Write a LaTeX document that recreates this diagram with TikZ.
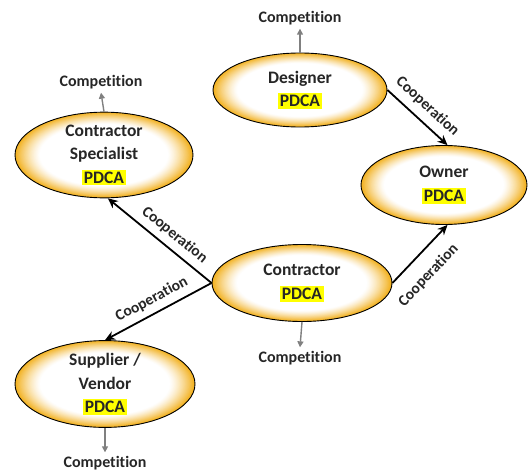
\documentclass[tikz,border=0pt]{standalone}
\usepackage{fontspec}
\setmainfont{Carlito}[Ligatures=NoCommon]
\usetikzlibrary{shapes.geometric,arrows.meta}

\definecolor{ringgold}{RGB}{242,176,28}
\definecolor{pdcayellow}{RGB}{255,255,0}
\newcommand{\pdca}{{\setlength{\fboxsep}{2pt}\colorbox{pdcayellow}{PDCA}}}

\begin{document}
\begin{tikzpicture}[x=1pt,y=-1pt,line width=0.9pt]
    \tikzstyle{glow}=[path picture={
        \pgfpointdiff{\pgfpointanchor{path picture bounding box}{center}}{\pgfpointanchor{path picture bounding box}{north east}}
        \pgfgetlastxy{\rx}{\ry}
        \foreach \k in {0,...,30} {
            \pgfmathsetmacro{\s}{1-0.0093*\k}
            \pgfmathsetmacro{\p}{100*(1-\k/30)^1.3}
            \fill[ringgold!\p!white] (path picture bounding box.center) ellipse [x radius=\s*\rx, y radius=\s*\ry];
        }}]
    \tikzstyle{party}=[ellipse,draw=black,glow,inner sep=0pt,align=center,text=black!85,font=\fontsize{17.5}{23.5}\selectfont\bfseries]
    \tikzstyle{compete}=[text=black!85,font=\fontsize{16}{17}\selectfont\bfseries]
    \tikzstyle{coop}=[-{Stealth[length=10pt,width=9pt]},line width=1.8pt,black]
    \tikzstyle{rival}=[-{Triangle[length=6pt,width=6pt]},line width=1.4pt,black!50]
    \tikzstyle{coop label}=[sloped,text=black!85,font=\fontsize{15.5}{17}\selectfont\bfseries]

    \useasboundingbox (0,0) rectangle (530,471);

    % Draw the parties
    \node[party,minimum width=174pt,minimum height=74pt] (P-des) at (300,90) {Designer\\\pdca};
    \node[party,minimum width=178pt,minimum height=75pt] (P-spe) at (104,155) {Contractor\\Specialist\\\pdca};
    \node[party,minimum width=166pt,minimum height=79pt] (P-own) at (444,185) {Owner\\\pdca};
    \node[party,minimum width=180pt,minimum height=77pt] (P-con) at (302,283) {Contractor\\\pdca};
    \node[party,minimum width=180pt,minimum height=72pt] (P-sup) at (105,384) {Supplier /\\Vendor\\\pdca};

    % Draw the competition labels
    \node[compete] (C-des) at (300,18) {Competition};
    \node[compete] (C-spe) at (101,82) {Competition};
    \node[compete] (C-con) at (300,358) {Competition};
    \node[compete] (C-sup) at (105,463) {Competition};

    \draw[rival] (P-des.north) -- (C-des.south);
    \draw[rival] (P-spe.north) -- (C-spe.south);
    \draw[rival] (P-con.south) -- (C-con.north);
    \draw[rival] (P-sup.south) -- (C-sup.north);

    % Connect the parties that cooperate
    \draw[coop] (P-des.east) -- (P-own.85) node[coop label,pos=0.5,above=4pt] {Cooperation};
    \draw[coop] (P-con.west) -- (P-spe.-85) node[coop label,pos=0.44,above=3pt] {Cooperation};
    \draw[coop] (P-con.west) -- (P-sup.north) node[coop label,pos=0.5,above=3pt] {Cooperation};
    \draw[coop] (P-con.east) -- (P-own.-85) node[coop label,pos=0.38,below=10pt] {Cooperation};
\end{tikzpicture}
\end{document}
